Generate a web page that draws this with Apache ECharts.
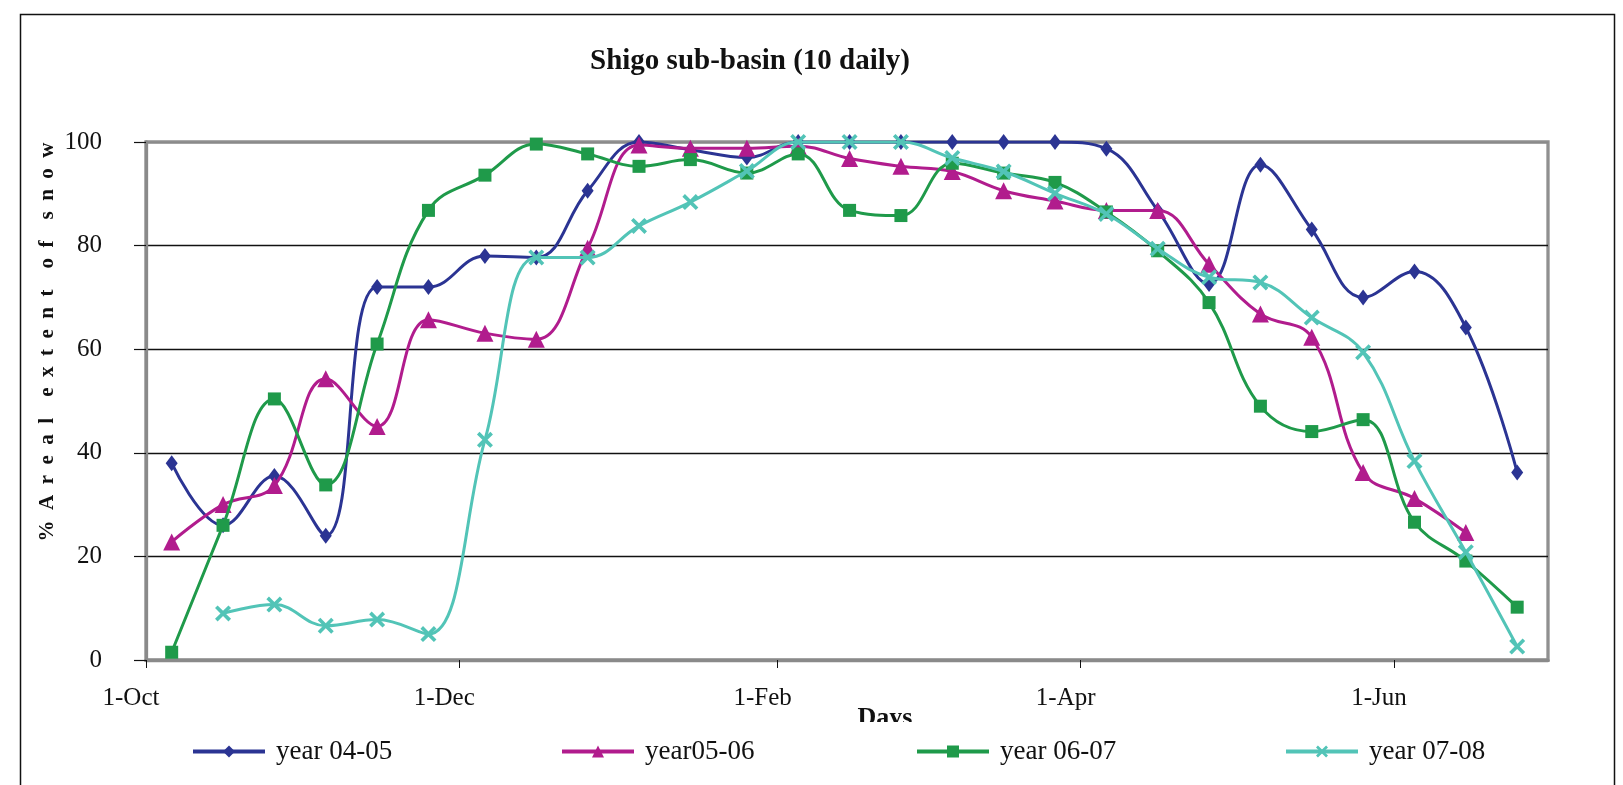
<!DOCTYPE html>
<html>
<head>
<meta charset="utf-8">
<script src="https://cdn.jsdelivr.net/npm/echarts@6/dist/echarts.min.js"></script>
<style>
html,body{margin:0;padding:0;background:#fff;}
#chart{width:1623px;height:785px;}
</style>
</head>
<body>
<div id="chart"></div>
<script>
// ---- data ----
const seasonStart = '2004-10-01';
const seasonEnd = '2005-07-01';
const dates = ['2004-10-06','2004-10-16','2004-10-26','2004-11-05','2004-11-15','2004-11-25',
  '2004-12-06','2004-12-16','2004-12-26','2005-01-05','2005-01-15','2005-01-26',
  '2005-02-05','2005-02-15','2005-02-25','2005-03-07','2005-03-17','2005-03-27',
  '2005-04-06','2005-04-16','2005-04-26','2005-05-06','2005-05-16','2005-05-26',
  '2005-06-05','2005-06-15','2005-06-25'];
const tickDates = ['2004-10-01','2004-12-01','2005-02-01','2005-04-01','2005-06-01'];
const tickLabels = ['1-Oct','1-Dec','1-Feb','1-Apr','1-Jun'];
const seriesNames = ['year 04-05','year05-06','year 06-07','year 07-08'];
const y0405 = [38,26,35.5,24,72,72,78,77.7,90.6,100,98.5,97,100,100,100,100,100,100,98.7,86.8,72.6,95.6,83.1,70,75,64.2,36.2];
const y0506 = [22.8,30,33.7,54.3,45.1,65.7,63.1,61.9,79.5,99.4,98.8,98.8,99.2,96.8,95.3,94.3,90.6,88.6,86.8,86.8,76.4,66.8,62.3,36.2,31.2,24.6,null];
const y0607 = [1.5,26,50.4,33.8,61,86.8,93.6,99.6,97.7,95.3,96.6,94,97.7,86.8,85.8,95.9,94,92.2,86.5,79,69,49,44.1,46.4,26.6,19.1,10.2];
const y0708 = [null,9,10.7,6.6,7.8,5,42.5,77.7,77.7,83.8,88.4,94.4,100,100,100,96.9,94.3,90.1,86.1,79.4,73.9,72.9,66.1,59.4,38.4,20.8,2.6];

// ---- helpers ----
const DAY = 86400000;
const t0 = Date.parse(seasonStart + 'T00:00:00Z');
const dayOf = s => Math.round((Date.parse(s + 'T00:00:00Z') - t0) / DAY);
const xDays = dates.map(dayOf);
const tickDays = tickDates.map(dayOf);
const pairs = arr => arr.map((v, i) => v == null ? null : [xDays[i], v]).filter(p => p);

const colors = ['#2B3493', '#B11C8D', '#1F9A4A', '#52C4B7'];
const crossPath = 'path://M0,1.6 L1.6,0 L5,3.4 L8.4,0 L10,1.6 L6.6,5 L10,8.4 L8.4,10 L5,6.6 L1.6,10 L0,8.4 L3.4,5 Z';
const symbols = ['diamond', 'triangle', 'rect', crossPath];
const symbolSizes = [[12, 16], 17, 13, 16];
const allY = [y0405, y0506, y0607, y0708];

const serif = '"Liberation Serif", "DejaVu Serif", serif';

const series = allY.map((arr, k) => ({
  name: seriesNames[k],
  type: 'line',
  data: pairs(arr),
  smooth: 0.4,
  symbol: symbols[k],
  symbolSize: symbolSizes[k],
  showAllSymbol: true,
  lineStyle: { color: colors[k], width: 3 },
  itemStyle: { color: colors[k] },
  z: 3 + k
}));

const legendLefts = [186, 555, 910, 1279];
const legends = seriesNames.map((n, k) => ({
  data: [n],
  left: legendLefts[k],
  top: 733,
  itemWidth: 72,
  itemHeight: 15,
  itemGap: 10,
  z: 60,
  lineStyle: { width: 4 },
  textStyle: { fontFamily: serif, fontSize: 27, color: '#111', padding: [0, 0, 0, 6] }
}));

const chart = echarts.init(document.getElementById('chart'));
chart.setOption({
  backgroundColor: '#fff',
  animation: false,
  title: {
    text: 'Shigo sub-basin (10 daily)',
    left: 745, top: 42, textAlign: 'center',
    textStyle: { fontFamily: serif, fontSize: 29, fontWeight: 'bold', color: '#111' }
  },
  graphic: [
    { type: 'rect', shape: { x: 20.5, y: 14.5, width: 1594, height: 820 },
      style: { fill: 'none', stroke: '#111', lineWidth: 1.5 }, z: -10, silent: true },
    { type: 'rect', shape: { x: 160, y: 722, width: 1370, height: 50 },
      style: { fill: '#fff' }, z: 50, silent: true }
  ],
  legend: legends,
  grid: {
    left: 146, right: 75, top: 142, bottom: 125,
    show: true, borderColor: '#909090', borderWidth: 3.3, backgroundColor: 'transparent'
  },
  xAxis: {
    type: 'value',
    min: 0, max: dayOf(seasonEnd),
    name: 'Days', nameLocation: 'middle', nameGap: 45, nameMoveOverlap: false,
    nameTextStyle: { fontFamily: serif, fontSize: 26, fontWeight: 'bold', color: '#111', padding: [0, 0, 0, 76], verticalAlign: 'top' },
    axisLine: { show: true, lineStyle: { color: '#8a8a8a', width: 3.3 } },
    axisTick: { show: true, customValues: tickDays, length: 8, lineStyle: { color: '#111', width: 1 } },
    axisLabel: {
      customValues: tickDays,
      formatter: v => tickLabels[tickDays.indexOf(Math.round(v))] || '',
      fontFamily: serif, fontSize: 25, color: '#111', margin: 26, padding: [0, 30, 0, 0]
    },
    splitLine: { show: false }
  },
  yAxis: {
    type: 'value',
    min: 0, max: 100, interval: 20,
    name: '%  A  r  e  a  l    e  x  t  e  n  t    o  f    s  n  o  w',
    nameLocation: 'middle', nameRotate: 90, nameGap: 88, nameMoveOverlap: false,
    nameTextStyle: { fontFamily: serif, fontSize: 21, fontWeight: 'bold', color: '#111', padding: [0, 0, 0, 118] },
    axisLine: { show: true, lineStyle: { color: '#8a8a8a', width: 3.3 } },
    axisTick: { show: true, inside: false, length: 12, lineStyle: { color: '#111', width: 1.2 } },
    axisLabel: { fontFamily: serif, fontSize: 25, color: '#111', margin: 44, padding: [8, 0, 0, 0] },
    splitLine: { show: true, lineStyle: { color: ['#8a8a8a', '#111', '#111', '#111', '#111', '#8a8a8a'], width: 1.3 } }
  },
  series: series
});
</script>
</body>
</html>
